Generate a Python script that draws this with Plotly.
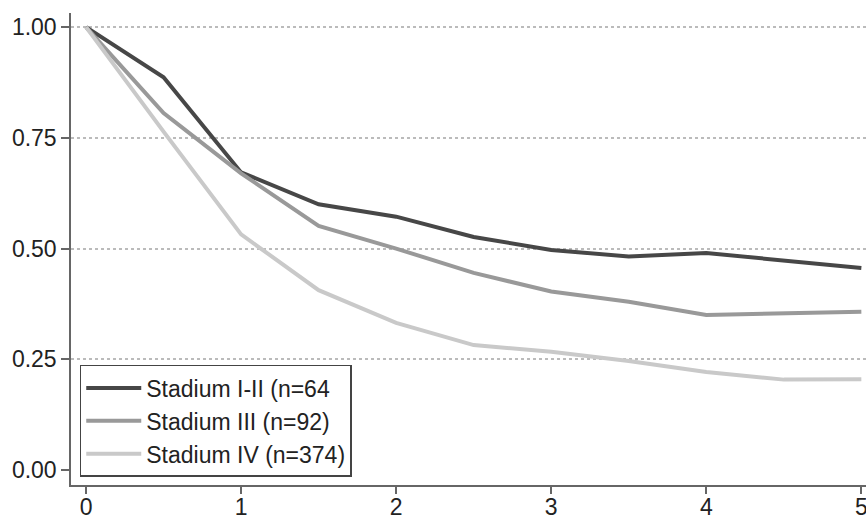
import plotly.graph_objects as go

years = [0, 0.5, 1, 1.5, 2, 2.5, 3, 3.5, 4, 4.5, 5]
stadium_1_2 = [1.0, 0.887, 0.672, 0.600, 0.572, 0.526, 0.497, 0.482, 0.490, 0.472, 0.456]
stadium_3 = [1.0, 0.806, 0.670, 0.551, 0.500, 0.445, 0.403, 0.380, 0.350, 0.354, 0.357]
stadium_4 = [1.0, 0.764, 0.532, 0.406, 0.332, 0.282, 0.267, 0.246, 0.221, 0.204, 0.205]
series_names = ["Stadium I-II (n=64", "Stadium III (n=92)", "Stadium IV (n=374)"]
y_ticks = [0, 0.25, 0.5, 0.75, 1.0]
y_tick_labels = ["0.00", "0.25", "0.50", "0.75", "1.00"]
grid_vals = [0.25, 0.5, 0.75, 1.0]
x_ticks = [0, 1, 2, 3, 4, 5]

colors = ["#474747", "#999999", "#c9c9c9"]
font = "Liberation Sans, Arial, Helvetica, sans-serif"

fig = go.Figure()
for name, vals, c in zip(series_names, [stadium_1_2, stadium_3, stadium_4], colors):
    fig.add_trace(go.Scatter(x=years, y=vals, mode="lines", name=name,
                             line=dict(color=c, width=4), cliponaxis=False))

# invisible trace on secondary axis to carry gridlines
fig.add_trace(go.Scatter(x=[years[0]], y=[grid_vals[0]], yaxis="y2", mode="markers",
                         marker=dict(opacity=0), showlegend=False, hoverinfo="skip"))

fig.update_layout(
    width=866, height=517,
    margin=dict(l=71, r=0, t=13, b=32, autoexpand=False),
    paper_bgcolor="white", plot_bgcolor="white",
    font=dict(family=font, size=23, color="#222222"),
    showlegend=True,
    legend=dict(x=0.011, y=0.017, xanchor="left", yanchor="bottom",
                bordercolor="#444444", borderwidth=1.5, bgcolor="white",
                font=dict(size=23, color="#222222"), tracegroupgap=0,
                itemwidth=55, entrywidth=290, entrywidthmode="pixels"),
    xaxis=dict(range=[-0.097, 5.03], tickvals=x_ticks, showgrid=False, zeroline=False,
               showline=True, linecolor="#666666", linewidth=1.5, automargin=False,
               ticks="outside", ticklen=7, tickcolor="#666666", tickwidth=1.5,
               ticklabelstandoff=-6, ticklabeloverflow="allow"),
    yaxis=dict(range=[-0.034, 1.032], tickvals=y_ticks, ticktext=y_tick_labels,
               showgrid=False, zeroline=False, automargin=False,
               showline=True, linecolor="#666666", linewidth=1.5,
               ticks="outside", ticklen=8, tickcolor="#666666", tickwidth=1.5),
    yaxis2=dict(range=[-0.034, 1.032], overlaying="y", tickvals=grid_vals,
                showticklabels=False, showgrid=True, gridcolor="#bbbbbb",
                griddash="dot", gridwidth=1.5, zeroline=False, showline=False,
                automargin=False, layer="below traces"),
)

fig.write_html("out.html", config={"displayModeBar": False},
               post_script="document.body.style.margin='0';document.body.style.overflow='hidden';")
